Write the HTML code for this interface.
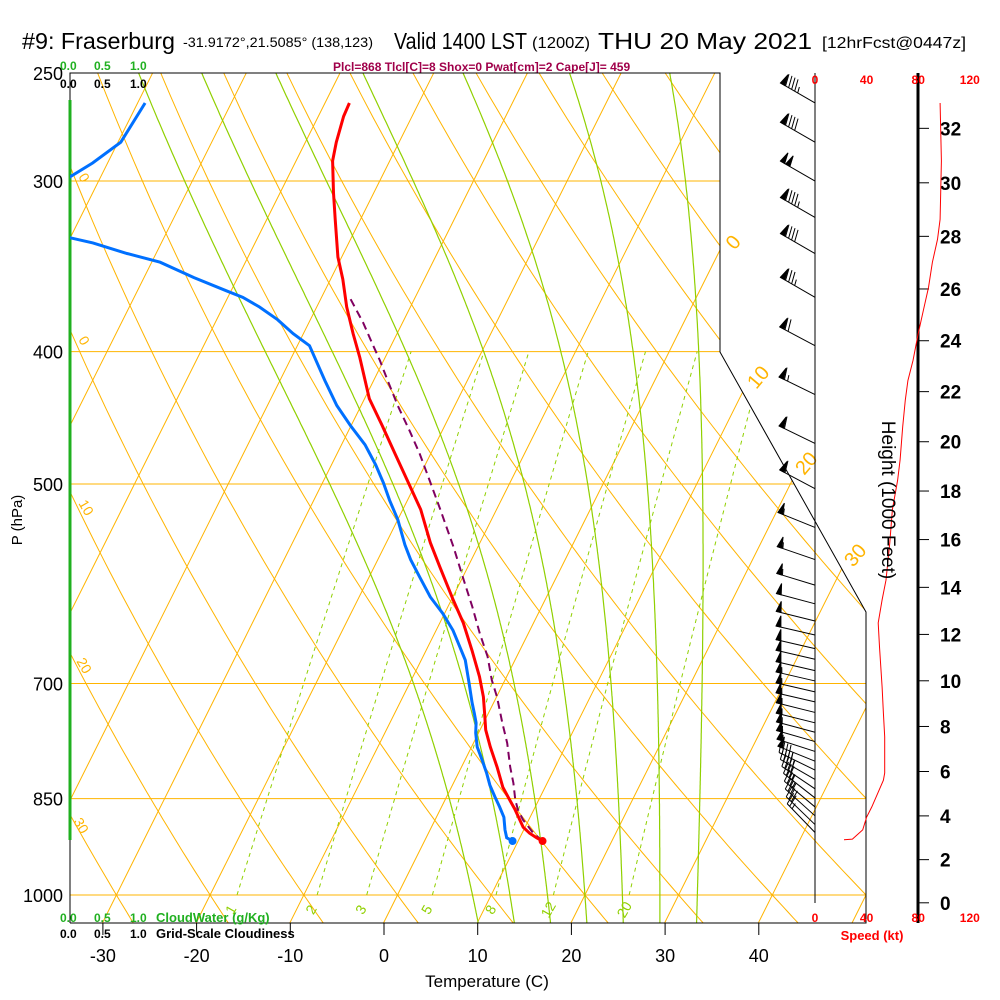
<!DOCTYPE html>
<html><head><meta charset="utf-8"><style>
body{margin:0;background:#fff}
svg{display:block;font-family:"Liberation Sans",sans-serif}
</style></head><body>
<svg id="c" width="1000" height="1000" viewBox="0 0 1000 1000" xmlns="http://www.w3.org/2000/svg">
<defs><clipPath id="plotclip"><polygon points="70,73 720,73 720,352 866,612 866,923 70,923"/></clipPath>
<clipPath id="plotrect"><rect x="70" y="73" width="796" height="850"/></clipPath></defs>
<g>
<text x="22" y="49" font-size="23" textLength="153" lengthAdjust="spacingAndGlyphs">#9: Fraserburg</text>
<text x="183" y="47" font-size="14" textLength="190" lengthAdjust="spacingAndGlyphs">-31.9172°,21.5085° (138,123)</text>
<text x="394" y="49" font-size="23" textLength="133" lengthAdjust="spacingAndGlyphs">Valid 1400 LST</text>
<text x="532" y="48" font-size="16" textLength="58" lengthAdjust="spacingAndGlyphs">(1200Z)</text>
<text x="598" y="49" font-size="23" textLength="214" lengthAdjust="spacingAndGlyphs">THU 20 May 2021</text>
<text x="822" y="48" font-size="16" textLength="144" lengthAdjust="spacingAndGlyphs">[12hrFcst@0447z]</text>
<text x="333" y="71" font-size="12" fill="#a0004a" font-weight="bold">Plcl=868 Tlcl[C]=8 Shox=0 Pwat[cm]=2 Cape[J]= 459</text>
</g>
<g id="bg" clip-path="url(#plotclip)"></g>
<g id="fg"></g>
</svg>
<script>
// ---- data ----
const pressureTicks=[250,300,400,500,700,850,1000];
const tempTicks=[-30,-20,-10,0,10,20,30,40];
const isoTemps=[-120,-110,-100,-90,-80,-70,-60,-50,-40,-30,-20,-10,0,10,20,30,40,50];
const dryThetas=[-30,-20,-10,0,10,20,30,40,50,60,70,80,90,100,110,120,130,140,150];
const moistThetas=[8,12,16,20,24,28,32];
const mixRatios=[1,2,3,5,8,12,20];
const heightTicks=[0,2,4,6,8,10,12,14,16,18,20,22,24,26,28,30,32];
const tempP=[913,908,901,892,866,848,834,806,779,757,736,716,692,662,632,608,575,552,522,476,453,433,404,388,371,354,341,320,306,290,281,269,263];
const tempT=[12.6,11.8,10.8,9.8,8.0,6.6,5.5,3.8,2.0,0.6,-0.4,-1.4,-2.9,-5.1,-7.5,-9.8,-13.0,-15.3,-18.1,-23.7,-26.7,-29.5,-32.7,-34.7,-36.8,-38.7,-40.4,-42.7,-44.3,-46.1,-46.7,-47.3,-47.4];
const dewP=[913,908,896,877,862,848,831,814,796,779,761,748,736,723,699,673,658,640,622,605,585,568,554,531,514,499,484,468,453,438,420,396,388,379,371,365,361,353,344,339,333,330,312,298,291,281,263];
const dewT=[9.4,8.6,8.0,7.2,6.2,5.2,4.0,3.0,1.8,0.6,-0.3,-0.8,-1.5,-2.3,-3.7,-5.3,-6.6,-8.2,-10.2,-12.4,-14.6,-16.5,-17.9,-20.0,-21.9,-23.5,-25.3,-27.5,-30.1,-32.6,-35.2,-38.7,-41.1,-43.5,-46.1,-48.4,-50.5,-54.7,-59.1,-63.1,-67.3,-70.1,-75,-73.3,-71.6,-69.7,-69.2];
const parcelP=[913,901,881,866,852,828,806,774,748,716,696,669,643,615,585,556,522,497,475,457,438,420,406,394,381,365];
const parcelT=[12.6,11.2,9.4,8.3,7.5,6.4,5.2,3.6,2.0,0.05,-1.4,-3.1,-5.2,-7.4,-10.0,-12.6,-16.0,-18.7,-21.2,-23.5,-26.1,-28.5,-30.4,-32.2,-34.2,-37.0];
const speedP=[911,910,896,877,862,824,814,766,736,704,658,632,608,588,552,522,497,480,454,434,420,406,388,373,359,344,331,320,290,263];
const speedKt=[22.5,29,37,40,44,53,54,54,53,52,50,49,52,55,58,60,64,66,68,70,72,76,80,84,88,91,95,97,98,97];
const barbP=[263,281,300,319,339,365,396,430,467,504,538,568,593,612,630,645,660,672,685,697,710,722,735,748,760,772,785,798,810,823,836,849,862,875,888,900];
const barbKt=[95,90,100,95,92,85,72,65,60,58,57,55,53,52,50,50,51,52,52,53,53,54,54,54,54,54,53,50,46,43,40,37,34,31,28,25];
const barbDir=[300,300,300,300,300,300,298,296,296,298,292,289,287,285,284,283,283,283,283,283,283,283,284,284,285,286,288,292,296,300,304,308,310,312,314,316];
// ---- axes ----
function yOf(p){return 895-593*Math.log(1000/p);}
function xOf(T,p){return 384+9.37*T+0.5*(922-yOf(p));}
function xSpeed(k){return 815+1.29*k;}
function pOfHeight(kft){return 1013.25*Math.pow(1-6.8756e-6*kft*1000,5.2559);}
const NS="http://www.w3.org/2000/svg";
const bg=document.getElementById('bg'),fg=document.getElementById('fg');
function mk(tag,attrs,parent){const e=document.createElementNS(NS,tag);for(const k in attrs)e.setAttribute(k,attrs[k]);parent.appendChild(e);return e;}
function poly(pts){return pts.map(p=>p[0].toFixed(1)+','+p[1].toFixed(1)).join(' ');}
// isobars
pressureTicks.forEach(p=>{if(p===250)return;const l=mk('line',{x1:70,x2:900,y1:yOf(p),y2:yOf(p),stroke:'#ffb400','stroke-width':1},bg);

});
// isotherms
isoTemps.forEach(T=>{const l=mk('line',{x1:xOf(T,1060),y1:yOf(1060),x2:xOf(T,240),y2:yOf(240),stroke:'#ffb400','stroke-width':1},bg);

});
// dry adiabats
dryThetas.forEach(th=>{const pts=[];for(let p=1060;p>=240;p-=10){const T=(th+273.15)*Math.pow(p/1000,0.2857)-273.15;pts.push([xOf(T,p),yOf(p)]);}
const l=mk('polyline',{points:poly(pts),fill:'none',stroke:'#ffb400','stroke-width':1},bg);

});
// moist adiabats
function es(Tc){return 6.112*Math.exp(17.67*Tc/(Tc+243.5));}
function dTdp(TK,p){const e=es(TK-273.15),rs=0.622*e/(p-e),Rd=287,Lv=2.5e6,cp=1005;
return (1/p)*(Rd*TK+Lv*rs)/(cp+Lv*Lv*rs*0.622/(Rd*TK*TK));}
moistThetas.forEach(tw=>{let TK=tw+273.15;const up=[];let p=1000;
for(;p>=245;p-=2){up.push([xOf(TK-273.15,p),yOf(p)]);TK-=dTdp(TK,p)*2;}
TK=tw+273.15;const dn=[];for(p=1000;p<=1060;p+=2){dn.unshift([xOf(TK-273.15,p),yOf(p)]);TK+=dTdp(TK,p)*2;}
const l=mk('polyline',{points:poly(dn.concat(up)),fill:'none',stroke:'#90d000','stroke-width':1.2},bg);

});
// mixing ratio
function tdOfW(w,p){const e=w*p/(622+w),a=Math.log(e/6.112);return 243.5*a/(17.67-a);}
mixRatios.forEach(w=>{const pts=[];for(let p=1000;p>=400;p-=10)pts.push([xOf(tdOfW(w,p),p),yOf(p)]);
const l=mk('polyline',{points:poly(pts),fill:'none',stroke:'#90d000','stroke-width':1,'stroke-dasharray':'4,4'},bg);


const x=xOf(tdOfW(w,1030),1030);
const t=mk('text',{x:x,y:914,'font-size':14,fill:'#90d000','text-anchor':'middle',transform:`rotate(-60 ${x} 910)`},fg);t.textContent=w;

});
// orange labels
[[80,180,'0'],[80,343,'0'],[82,510,'10'],[80,668,'20'],[77,828,'30']].forEach(a=>{const t=mk('text',{x:a[0],y:a[1],'font-size':14,fill:'#ffb400','text-anchor':'middle',transform:`rotate(60 ${a[0]} ${a[1]})`},fg);t.textContent=a[2];

});
[[733,249,'0'],[758,384,'10'],[806,470,'20'],[855,562,'30']].forEach(a=>{const t=mk('text',{x:a[0],y:a[1],'font-size':20,fill:'#ffb400','text-anchor':'middle',transform:`rotate(-50 ${a[0]} ${a[1]-7})`},fg);t.textContent=a[2];

});
// borders
const b=mk('polyline',{points:'70,923 70,73 720,73 720,352 866,612 866,923 70,923',fill:'none',stroke:'#000','stroke-width':1},fg);


const cw=mk('line',{x1:70,x2:70,y1:100,y2:840,stroke:'#20b020','stroke-width':3},fg);


const sa=mk('line',{x1:815,x2:815,y1:73,y2:903,stroke:'#000','stroke-width':1},fg);


const ha=mk('line',{x1:918,x2:918,y1:73,y2:923,stroke:'#000','stroke-width':3},fg);


// pressure labels
pressureTicks.forEach(p=>{const t=mk('text',{x:63,y:yOf(p)+7,'font-size':18,'text-anchor':'end'},fg);t.textContent=p;

});
// temp ticks
tempTicks.forEach(T=>{const x=384+9.37*T;mk('line',{x1:x,x2:x,y1:923,y2:935,stroke:'#000'},fg);
const t=mk('text',{x:x,y:962,'font-size':18,'text-anchor':'middle'},fg);t.textContent=T;

});
// height ticks
heightTicks.forEach(h=>{const y=yOf(pOfHeight(h));mk('line',{x1:918,x2:929,y1:y,y2:y,stroke:'#000'},fg);
const t=mk('text',{x:940,y:y+7,'font-size':19,'font-weight':'bold'},fg);t.textContent=h;

});
// speed labels
[0,40,80,120].forEach(k=>{[84,922].forEach(y=>{const t=mk('text',{x:xSpeed(k),y:y,'font-size':12,'font-weight':'bold',fill:'#f00','text-anchor':'middle'},fg);t.textContent=k;

});});
// speed profile
const sp=mk('polyline',{points:poly(speedP.map((p,i)=>[xSpeed(speedKt[i]),yOf(p)])),fill:'none',stroke:'#f00','stroke-width':1},fg);


// profiles
const gp=mk('g',{'clip-path':'url(#plotrect)'},fg);
const dw=mk('polyline',{points:poly(dewP.map((p,i)=>[xOf(dewT[i],p),yOf(p)])),fill:'none',stroke:'#0070ff','stroke-width':3},gp);


const pc=mk('polyline',{points:poly(parcelP.map((p,i)=>[xOf(parcelT[i],p),yOf(p)])),fill:'none',stroke:'#800060','stroke-width':2,'stroke-dasharray':'8,5'},gp);


const tl=mk('polyline',{points:poly(tempP.map((p,i)=>[xOf(tempT[i],p),yOf(p)])),fill:'none',stroke:'#f00','stroke-width':3},gp);


const d1=mk('circle',{cx:xOf(dewT[0],dewP[0]),cy:yOf(dewP[0]),r:4,fill:'#0070ff'},fg);


const d2=mk('circle',{cx:xOf(tempT[0],tempP[0]),cy:yOf(tempP[0]),r:4,fill:'#f00'},fg);


// wind barbs
barbP.forEach((p,i)=>{const g=mk('g',{stroke:'#000',fill:'#000','stroke-width':1},fg);


const y0=yOf(p),x0=815,d=barbDir[i]*Math.PI/180,L=40;
const ux=Math.sin(d),uy=-Math.cos(d);const nx=-uy,ny=ux;
const ex=x0+ux*L,ey=y0+uy*L;
mk('line',{x1:x0,y1:y0,x2:ex,y2:ey},g);
let s=Math.round(barbKt[i]/5)*5,pos=0;
const fl=Math.floor(s/50);s-=fl*50;
for(let k=0;k<fl;k++){const ax=ex-ux*pos,ay=ey-uy*pos,bx=ex-ux*(pos+5),by=ey-uy*(pos+5);
const tx=(ax+bx)/2+nx*11,ty=(ay+by)/2+ny*11;
mk('polygon',{points:poly([[ax,ay],[bx,by],[tx,ty]])},g);pos+=6;}
const full=Math.floor(s/10);s-=full*10;
for(let k=0;k<full;k++){const ax=ex-ux*pos,ay=ey-uy*pos;mk('line',{x1:ax,y1:ay,x2:ax+nx*12+ux*3,y2:ay+ny*12+uy*3},g);pos+=3.5;}
if(s>=5){const ax=ex-ux*pos,ay=ey-uy*pos;mk('line',{x1:ax,y1:ay,x2:ax+nx*6+ux*1.5,y2:ay+ny*6+uy*1.5},g);}
});
// misc labels
function txt(x,y,s,attrs,name){const t=mk('text',Object.assign({x:x,y:y},attrs),fg);t.textContent=s;

return t;}
txt(60,70,'0.0',{'font-size':12,'font-weight':'bold',fill:'#20b020'},'cloudwater-scale');
txt(94,70,'0.5',{'font-size':12,'font-weight':'bold',fill:'#20b020'},'cloudwater-scale');
txt(130,70,'1.0',{'font-size':12,'font-weight':'bold',fill:'#20b020'},'cloudwater-scale');
txt(60,88,'0.0',{'font-size':12,'font-weight':'bold'},'cloudiness-scale');
txt(94,88,'0.5',{'font-size':12,'font-weight':'bold'},'cloudiness-scale');
txt(130,88,'1.0',{'font-size':12,'font-weight':'bold'},'cloudiness-scale');
txt(60,922,'0.0',{'font-size':12,'font-weight':'bold',fill:'#20b020'},'cloudwater-scale');
txt(94,922,'0.5',{'font-size':12,'font-weight':'bold',fill:'#20b020'},'cloudwater-scale');
txt(130,922,'1.0',{'font-size':12,'font-weight':'bold',fill:'#20b020'},'cloudwater-scale');
txt(156,922,'CloudWater (g/Kg)',{'font-size':13,'font-weight':'bold',fill:'#20b020'},'cloudwater-title');
txt(60,938,'0.0',{'font-size':12,'font-weight':'bold'},'cloudiness-scale');
txt(94,938,'0.5',{'font-size':12,'font-weight':'bold'},'cloudiness-scale');
txt(130,938,'1.0',{'font-size':12,'font-weight':'bold'},'cloudiness-scale');
txt(156,938,'Grid-Scale Cloudiness',{'font-size':13,'font-weight':'bold'},'cloudiness-title');
txt(487,987,'Temperature (C)',{'font-size':17,'text-anchor':'middle'},'x-axis-title');
txt(22,520,'P (hPa)',{'font-size':15,'text-anchor':'middle',transform:'rotate(-90 22 520)'},'y-axis-title');
txt(882,500,'Height (1000 Feet)',{'font-size':19,'text-anchor':'middle',transform:'rotate(90 882 500)'},'height-axis-title');
txt(872,940,'Speed (kt)',{'font-size':13,'font-weight':'bold',fill:'#f00','text-anchor':'middle'},'speed-axis-title');
</script>
</body></html>
